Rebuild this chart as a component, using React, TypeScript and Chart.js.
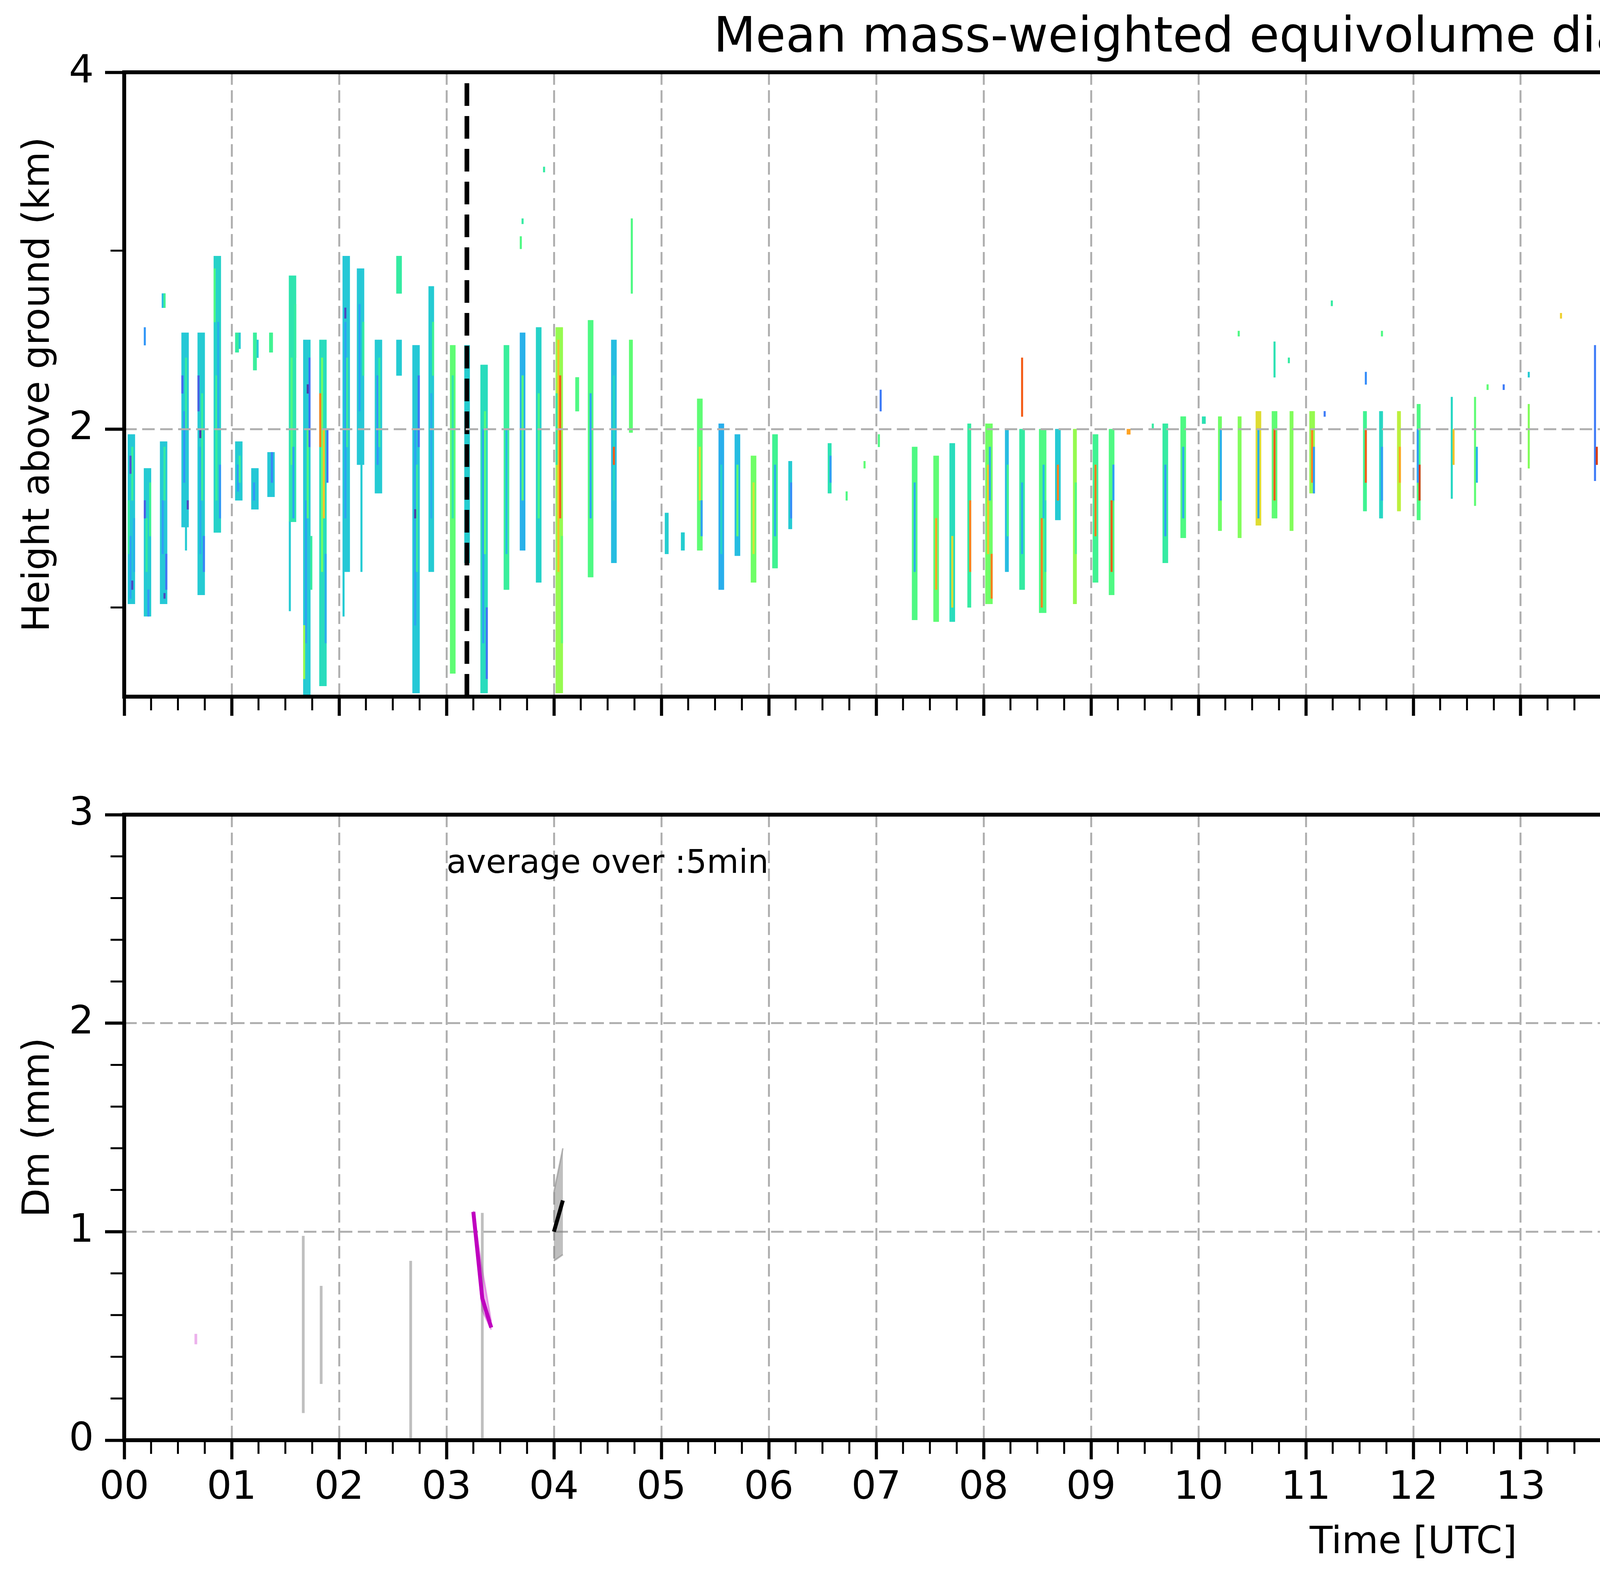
import React, { useEffect, useRef } from 'react';
import { Chart, registerables } from 'chart.js';

Chart.register(...registerables);

const FONT = "'DejaVu Sans', sans-serif";
Chart.defaults.font.family = FONT;
Chart.defaults.color = '#000';

// ---- axis ticks / labels ----
const hourLabels = ['00', '01', '02', '03', '04', '05', '06', '07', '08', '09', '10', '11',
  '12', '13', '14', '15', '16', '17', '18', '19', '20', '21', '22', '23'];
const hourTicks = [0, 1, 2, 3, 4, 5, 6, 7, 8, 9, 10, 11, 12, 13, 14, 15, 16, 17, 18, 19, 20, 21, 22, 23, 24];
const heightTicks = [2, 4];
const heightMinorTicks = [1, 3];
const heightRange = [0.5, 4];
const dmTicks = [0, 1, 2, 3];
const dmRange = [0, 3];
const colorbarTicks = [0, 0.4, 0.8, 1.2, 1.6, 2.0];
const colorbarRange = [0, 2];

// dashed black markers and the grey "no data" strip (hours)
const markerHours = [3.19, 19.2];
const missingSpan = [23.85, 24];

// radar Dm cells: [start minute, minutes, bottom km, top km, Dm mm]
const cells00to03 = [
  [2, 4, 1.02, 1.97, 0.54], [2, 1, 1.3, 1.6, 0.7], [3, 1, 1.05, 1.4, 0.42], [4, 1, 1.6, 1.9, 0.72], [5, 1, 1.2, 1.5, 0.46], [3, 1, 1.75, 1.85, 0.18], [4, 1, 1.1, 1.15, 0.15],
  [11, 4, 0.95, 1.78, 0.55], [12, 1, 1.2, 1.5, 0.7], [13, 1, 0.95, 1.1, 0.38], [14, 1, 1.4, 1.7, 0.74], [11, 1, 1.5, 1.6, 0.22], [11, 1, 2.47, 2.57, 0.38],
  [20, 4, 1.02, 1.93, 0.54], [21, 1, 1.3, 1.6, 0.4], [22, 1, 1.6, 1.9, 0.7], [23, 1, 1.1, 1.3, 0.28], [21, 2, 2.68, 2.76, 0.5], [22, 1, 2.68, 2.76, 0.75], [22, 1, 1.05, 1.08, 0.15],
  [32, 4, 1.45, 2.54, 0.54], [33, 1, 1.7, 2.1, 0.38], [34, 1, 2.0, 2.4, 0.7], [32, 1, 2.2, 2.3, 0.25], [34, 1, 1.32, 1.45, 0.55], [35, 1, 1.55, 1.6, 0.15],
  [41, 4, 1.07, 2.54, 0.55], [42, 1, 1.3, 1.9, 0.45], [43, 1, 1.6, 2.2, 0.72], [44, 1, 1.2, 1.4, 0.32], [41, 1, 2.1, 2.3, 0.22], [42, 1, 1.95, 2.0, 0.12],
  [50, 4, 1.42, 2.97, 0.58], [51, 1, 1.6, 2.3, 0.72], [52, 1, 2.0, 2.6, 0.45], [50, 1, 2.6, 2.9, 0.8], [53, 1, 1.5, 1.8, 0.38],
  [62, 4, 1.6, 1.93, 0.55], [63, 1, 1.65, 1.8, 0.4], [64, 1, 1.7, 1.85, 0.72], [62, 2, 2.43, 2.54, 0.7], [64, 1, 2.45, 2.54, 0.55],
  [71, 4, 1.55, 1.78, 0.54], [72, 1, 1.6, 1.7, 0.38], [72, 2, 2.33, 2.54, 0.72], [74, 1, 2.4, 2.5, 0.55],
  [80, 4, 1.62, 1.87, 0.54], [82, 1, 1.7, 1.87, 0.32], [81, 2, 2.43, 2.54, 0.75],
  [92, 4, 1.48, 2.86, 0.66], [93, 1, 1.8, 2.4, 0.8], [94, 1, 1.5, 1.9, 0.42], [92, 1, 0.98, 1.48, 0.55], [95, 1, 2.4, 2.7, 0.7],
  [100, 4, 0.5, 2.5, 0.55], [101, 1, 0.8, 1.6, 0.42], [102, 1, 1.5, 2.0, 0.8], [103, 1, 1.9, 2.4, 0.28], [100, 1, 0.6, 0.9, 1.0], [104, 1, 1.1, 1.4, 0.7], [102, 1, 2.2, 2.25, 0.12],
  [109, 4, 0.56, 2.5, 0.62], [110, 1, 1.2, 2.4, 0.9], [111, 1, 1.5, 2.0, 1.3], [112, 1, 0.8, 1.3, 0.45], [109, 1, 1.9, 2.2, 1.5], [113, 1, 1.7, 2.0, 0.28],
  [122, 4, 1.2, 2.97, 0.54], [123, 1, 1.5, 2.6, 0.42], [124, 1, 1.9, 2.4, 0.7], [122, 1, 0.95, 1.2, 0.55], [123, 1, 2.62, 2.68, 0.15],
  [130, 4, 1.8, 2.9, 0.54], [131, 1, 2.1, 2.7, 0.42], [133, 1, 2.3, 2.6, 0.7], [132, 1, 1.2, 1.8, 0.55],
  [140, 4, 1.64, 2.5, 0.55], [141, 1, 1.8, 2.3, 0.38], [142, 1, 1.9, 2.4, 0.7],
  [152, 3, 2.76, 2.97, 0.7], [152, 3, 2.3, 2.5, 0.55],
  [161, 4, 0.52, 2.47, 0.54], [162, 1, 0.9, 2.0, 0.42], [163, 1, 1.2, 1.8, 0.7], [164, 1, 1.9, 2.3, 0.28], [162, 1, 1.5, 1.55, 0.12],
  [170, 3, 1.2, 2.8, 0.55], [171, 1, 1.5, 2.2, 0.45], [172, 1, 2.3, 2.6, 0.75],
];
const cells03to06 = [
  [182, 3, 0.63, 2.47, 0.85], [183, 1, 1.5, 2.3, 0.66],
  [190, 3, 1.25, 2.47, 0.56],
  [199, 4, 0.52, 2.36, 0.62], [200, 1, 0.8, 2.0, 0.42], [201, 1, 1.3, 2.1, 0.82], [202, 1, 0.6, 1.0, 0.28],
  [212, 3, 1.1, 2.47, 0.72], [213, 1, 1.3, 2.0, 0.5],
  [221, 3, 1.32, 2.54, 0.46], [222, 1, 1.6, 2.3, 0.82], [222, 1, 3.15, 3.18, 0.7], [221, 1, 3.01, 3.08, 0.8],
  [230, 3, 1.14, 2.57, 0.58], [231, 1, 1.5, 2.2, 0.78], [234, 1, 3.44, 3.47, 0.7],
  [241, 4, 0.52, 2.57, 1.0], [242, 1, 1.2, 2.5, 1.3], [243, 1, 1.5, 2.3, 1.6], [241, 1, 1.8, 2.2, 0.7], [244, 1, 0.8, 1.4, 0.85],
  [252, 2, 2.1, 2.29, 0.8],
  [259, 3, 1.17, 2.61, 0.8], [260, 1, 1.5, 2.2, 0.42],
  [272, 3, 1.25, 2.5, 0.5], [273, 1, 1.6, 2.3, 0.6], [273, 1, 1.8, 1.9, 1.6],
  [282, 2, 1.98, 2.5, 0.85], [283, 1, 2.76, 3.18, 0.8],
  [302, 2, 1.3, 1.53, 0.56], [311, 2, 1.32, 1.42, 0.56],
  [320, 3, 1.32, 2.17, 0.85], [321, 1, 1.6, 1.9, 1.2], [322, 1, 1.4, 1.6, 0.4],
  [332, 3, 1.1, 2.03, 0.45], [333, 1, 1.3, 1.8, 0.58],
  [341, 3, 1.29, 1.97, 0.5], [342, 1, 1.4, 1.8, 0.85],
  [350, 3, 1.14, 1.85, 0.9], [351, 1, 1.3, 1.7, 1.15],
];
const cells06to09 = [
  [362, 3, 1.22, 1.97, 0.75], [363, 1, 1.4, 1.8, 0.45],
  [371, 2, 1.44, 1.82, 0.55], [372, 1, 1.5, 1.7, 0.35],
  [393, 2, 1.64, 1.92, 0.65], [394, 1, 1.7, 1.85, 0.4],
  [403, 1, 1.6, 1.65, 0.8], [413, 1, 1.78, 1.82, 0.85], [422, 1, 2.1, 2.22, 0.3], [421, 1, 1.9, 1.97, 0.8],
  [440, 3, 0.93, 1.9, 0.8], [441, 1, 1.2, 1.7, 0.45],
  [452, 3, 0.92, 1.85, 0.85], [453, 1, 1.1, 1.5, 1.4],
  [461, 3, 0.92, 1.92, 0.62], [462, 1, 1.0, 1.4, 1.2],
  [471, 2, 1.0, 2.03, 0.7], [472, 1, 1.2, 1.6, 1.5],
  [481, 4, 1.02, 2.03, 0.9], [482, 1, 1.3, 1.8, 1.3], [483, 1, 1.6, 1.9, 0.45], [484, 1, 1.05, 1.3, 1.5],
  [492, 2, 1.2, 2.0, 0.5], [493, 1, 1.4, 1.8, 0.75],
  [500, 3, 1.1, 2.0, 0.7], [501, 1, 1.3, 1.7, 0.45], [501, 1, 2.07, 2.4, 1.6],
  [511, 4, 0.97, 2.0, 0.8], [512, 1, 1.0, 1.5, 1.5], [513, 1, 1.5, 1.8, 0.5], [514, 1, 1.2, 1.6, 0.65],
  [520, 3, 1.49, 2.0, 0.55], [521, 1, 1.6, 1.8, 1.5],
  [530, 2, 1.02, 2.0, 1.0], [531, 1, 1.3, 1.7, 0.8],
];
const cells09to12 = [
  [541, 3, 1.14, 1.97, 0.75], [542, 1, 1.4, 1.8, 1.5],
  [550, 3, 1.07, 2.0, 0.8], [551, 1, 1.2, 1.6, 1.6], [552, 1, 1.6, 1.8, 0.4],
  [560, 2, 1.97, 2.0, 1.4], [574, 1, 2.0, 2.03, 0.7],
  [580, 3, 1.25, 2.03, 0.7], [581, 1, 1.4, 1.8, 0.4],
  [590, 3, 1.39, 2.07, 0.8], [591, 1, 1.5, 1.9, 0.45],
  [602, 2, 2.03, 2.07, 0.65],
  [611, 2, 1.43, 2.07, 0.9], [612, 1, 1.6, 2.0, 0.45],
  [622, 2, 1.39, 2.07, 0.95], [622, 1, 2.52, 2.55, 0.8],
  [632, 3, 1.46, 2.1, 1.2], [633, 1, 1.5, 2.0, 0.45],
  [641, 3, 1.5, 2.1, 0.85], [642, 1, 1.6, 2.0, 1.6], [642, 1, 2.29, 2.49, 0.65], [650, 1, 2.37, 2.4, 0.7],
  [651, 2, 1.43, 2.1, 0.95],
  [662, 3, 1.64, 2.1, 1.0], [663, 1, 1.7, 2.0, 1.5], [664, 1, 1.64, 1.9, 0.4],
  [670, 1, 2.07, 2.1, 0.3], [674, 1, 2.69, 2.72, 0.7],
  [692, 2, 1.54, 2.1, 0.75], [693, 1, 1.7, 2.0, 1.6], [693, 1, 2.25, 2.32, 0.35],
  [701, 2, 1.5, 2.1, 0.6], [702, 1, 1.6, 1.9, 0.4], [702, 1, 2.52, 2.55, 0.8],
  [711, 2, 1.54, 2.1, 1.1], [712, 1, 1.7, 1.9, 1.4],
];
const cells12to24 = [
  [722, 2, 1.49, 2.14, 0.8], [723, 1, 1.6, 1.8, 1.7], [722, 1, 1.7, 2.0, 0.4],
  [741, 1, 1.61, 2.18, 0.6], [742, 1, 1.8, 2.0, 1.3],
  [754, 1, 1.57, 2.18, 0.85], [755, 1, 1.7, 1.9, 0.45],
  [761, 1, 2.22, 2.25, 0.85], [770, 1, 2.22, 2.25, 0.3],
  [784, 1, 1.78, 2.14, 0.95], [784, 1, 2.29, 2.32, 0.55], [802, 1, 2.62, 2.65, 1.25],
  [821, 1, 1.71, 2.47, 0.3], [822, 1, 1.8, 1.9, 1.7],
  [831, 1, 1.75, 2.39, 0.75], [832, 1, 1.8, 2.0, 1.45],
  [845, 1, 1.75, 2.32, 0.8], [854, 1, 1.8, 2.14, 0.45], [860, 1, 1.75, 2.0, 0.6], [861, 1, 1.75, 1.8, 1.5],
  [884, 1, 2.0, 2.25, 0.65], [892, 1, 1.82, 2.1, 0.5],
  [902, 1, 1.75, 2.14, 0.7], [904, 1, 2.47, 2.57, 1.1],
  [912, 1, 1.75, 2.36, 0.55], [921, 1, 1.82, 2.39, 0.85], [922, 1, 1.9, 2.1, 0.3],
  [933, 1, 1.75, 2.36, 0.75], [934, 1, 1.9, 2.2, 0.45],
  [942, 1, 1.75, 2.36, 0.6], [943, 1, 1.8, 2.0, 1.6],
  [994, 1, 2.03, 2.07, 1.2], [1084, 1, 3.18, 3.37, 1.2], [1091, 1, 2.25, 2.29, 1.15],
  [1222, 1, 2.47, 2.5, 1.2], [1234, 1, 2.97, 3.11, 0.85], [1234, 1, 2.4, 2.76, 1.45],
  [1234, 1, 2.5, 2.6, 1.75], [1234, 1, 2.11, 2.14, 1.7],
  [1262, 1, 2.39, 2.5, 1.2], [1265, 1, 2.25, 2.28, 1.4],
  [1310, 1, 2.8, 2.97, 1.5], [1310, 1, 2.54, 2.64, 1.2], [1334, 1, 2.43, 2.5, 1.2],
  [1413, 1, 2.39, 2.42, 1.2], [1421, 1, 2.39, 2.5, 1.35],
  [1430, 1, 2.32, 2.36, 0.65], [1430, 1, 2.43, 2.47, 1.2],
];

// 5-minute averages (minute of day)
const radarMinutes = [100, 110, 160, 200, 240, 245];
const radarMin = [0.13, 0.27, 0.01, 0.01, 0.86, 0.89];
const radarMax = [0.98, 0.74, 0.86, 1.09, 1.19, 1.40];
const radarMedian = [null, null, null, null, 1.0, 1.15];
const parsivelMinutes = [40, 195, 200, 205];
const parsivelMin = [0.46, 1.08, 0.62, 0.53];
const parsivelMax = [0.51, 1.10, 0.82, 0.57];
const parsivelMedian = [null, 1.095, 0.68, 0.54];

const legendLabels = ['Min-Max Range radar Dm', 'radar(xmacs-wmacs)_Dm_median', 'Min-Max Range parsivel Dm', 'parsivel_Dm_median'];
const averageNote = { text: 'average over :5min', x: 3.0, y: 2.72 };

const RADAR_FILL = 'rgba(128,128,128,0.5)';
const PARSIVEL_FILL = 'rgba(191,0,191,0.3)';
const PARSIVEL_LINE = '#bf00bf';

// turbo colour map (polynomial fit)
const turbo = (t: number) => {
  const x = Math.min(1, Math.max(0, t));
  const x2 = x * x, x3 = x2 * x, x4 = x3 * x, x5 = x4 * x;
  const r = 0.13572138 + 4.6153926 * x - 42.66032258 * x2 + 132.13108234 * x3 - 152.94239396 * x4 + 59.28637943 * x5;
  const g = 0.09140261 + 2.19418839 * x + 4.84296658 * x2 - 14.18503333 * x3 + 4.27729857 * x4 + 2.82956604 * x5;
  const b = 0.1066733 + 12.64194608 * x - 60.58204836 * x2 + 110.36276771 * x3 - 89.90310912 * x4 + 27.34824973 * x5;
  const c = (u: number) => Math.round(255 * Math.min(1, Math.max(0, u)));
  return `rgb(${c(r)}, ${c(g)}, ${c(b)})`;
};

const quarterHours: number[] = [];
for (let q = 1; q < 96; q++) if (q % 4 !== 0) quarterHours.push(q / 4);
const dmMinorTicks: number[] = [];
for (let k = 1; k < 15; k++) if (k % 5 !== 0) dmMinorTicks.push(k / 5);

// ---- plugins ----
const framePlugin = {
  id: 'frame',
  afterDraw(chart: any, _a: any, o: any) {
    const { ctx, chartArea: a } = chart;
    ctx.save();
    ctx.strokeStyle = '#000';
    ctx.lineWidth = o.width || 10;
    ctx.strokeRect(a.left, a.top, a.right - a.left, a.bottom - a.top);
    ctx.restore();
  },
};

const minorTicksPlugin = {
  id: 'minorTicks',
  afterDraw(chart: any, _a: any, o: any) {
    const { ctx, chartArea: a, scales } = chart;
    ctx.save();
    ctx.strokeStyle = '#000';
    ctx.lineWidth = o.width;
    ctx.beginPath();
    (o.x || []).forEach((v: number) => {
      const px = scales.x.getPixelForValue(v);
      ctx.moveTo(px, a.bottom);
      ctx.lineTo(px, a.bottom + o.length);
    });
    (o.y || []).forEach((v: number) => {
      const py = scales.y.getPixelForValue(v);
      ctx.moveTo(a.left - o.length, py);
      ctx.lineTo(a.left, py);
    });
    ctx.stroke();
    ctx.restore();
  },
};

const notePlugin = {
  id: 'note',
  afterDatasetsDraw(chart: any, _a: any, o: any) {
    const { ctx, scales } = chart;
    ctx.save();
    ctx.font = `${o.size}px ${FONT}`;
    ctx.fillStyle = '#000';
    ctx.textBaseline = 'alphabetic';
    ctx.fillText(o.text, scales.x.getPixelForValue(o.x), scales.y.getPixelForValue(o.y));
    ctx.restore();
  },
};

const boxLegendPlugin = {
  id: 'boxLegend',
  afterDraw(chart: any, _a: any, o: any) {
    const { ctx, chartArea: a } = chart;
    const items = o.items as any[];
    ctx.save();
    ctx.font = `${o.size}px ${FONT}`;
    const textW = Math.max(...items.map((it) => ctx.measureText(it.label).width));
    const w = o.padX + o.handleW + o.gap + textW + o.padRight;
    const h = o.padY * 2 + o.rowH * items.length;
    const x0 = a.right - o.margin - w;
    const y0 = a.top + o.margin;
    ctx.beginPath();
    ctx.roundRect(x0, y0, w, h, 16);
    ctx.fillStyle = 'rgba(255,255,255,0.8)';
    ctx.fill();
    ctx.strokeStyle = '#d0d0d0';
    ctx.lineWidth = 5;
    ctx.stroke();
    items.forEach((it, i) => {
      const cy = y0 + o.padY + o.rowH * (i + 0.5);
      const hx = x0 + o.padX;
      if (it.kind === 'patch') {
        ctx.fillStyle = it.fill;
        ctx.fillRect(hx, cy - 26, o.handleW, 52);
        ctx.strokeStyle = it.fill;
        ctx.lineWidth = 5;
        ctx.strokeRect(hx, cy - 26, o.handleW, 52);
      } else {
        ctx.strokeStyle = it.color;
        ctx.lineWidth = 10;
        ctx.beginPath();
        ctx.moveTo(hx, cy);
        ctx.lineTo(hx + o.handleW, cy);
        ctx.stroke();
      }
      ctx.fillStyle = '#000';
      ctx.textBaseline = 'middle';
      ctx.fillText(it.label, hx + o.handleW + o.gap, cy);
    });
    ctx.restore();
  },
};

const sideLabelPlugin = {
  id: 'sideLabel',
  afterDraw(chart: any, _a: any, o: any) {
    const { ctx, chartArea: a } = chart;
    ctx.save();
    ctx.translate(o.x, (a.top + a.bottom) / 2);
    ctx.rotate(-Math.PI / 2);
    ctx.font = `${o.size}px ${FONT}`;
    ctx.fillStyle = '#000';
    ctx.textAlign = 'center';
    ctx.textBaseline = 'middle';
    ctx.fillText(o.text, 0, 0);
    ctx.restore();
  },
};

// ---- helpers ----
const gridStyle = (z: number) => ({
  color: '#b0b0b0', lineWidth: 5, tickColor: '#000', tickWidth: 8, tickLength: 49, z, offset: false,
});
const borderStyle = { display: false, dash: [32, 14] };
const setTicks = (values: number[]) => (s: any) => { s.ticks = values.map((v) => ({ value: v })); };
// empty right-hand axis that reserves the space between plot and colour bar
const spacerAxis = (width: number) => ({
  position: 'right', display: true, afterFit: (s: any) => { s.width = width; },
  ticks: { display: false }, grid: { display: false }, border: { display: false },
});

const groupRuns = (minutes: number[]) => {
  const runs: number[][] = [];
  minutes.forEach((m, i) => {
    const last = runs[runs.length - 1];
    if (last && m - minutes[last[last.length - 1]] <= 5) last.push(i);
    else runs.push([i]);
  });
  return runs;
};

const rangeDatasets = (minutes: number[], lo: number[], hi: number[], color: string) =>
  groupRuns(minutes).flatMap((run) => {
    if (run.length === 1) {
      const i = run[0];
      const x = minutes[i] / 60;
      return [{ type: 'line', data: [{ x, y: lo[i] }, { x, y: hi[i] }], borderColor: color, borderWidth: 7, pointRadius: 0, fill: false, order: 2 }];
    }
    return [
      { type: 'line', data: run.map((i) => ({ x: minutes[i] / 60, y: lo[i] })), borderColor: color, borderWidth: 4, pointRadius: 0, fill: false, tension: 0, order: 2 },
      { type: 'line', data: run.map((i) => ({ x: minutes[i] / 60, y: hi[i] })), borderColor: color, borderWidth: 4, pointRadius: 0, fill: '-1', backgroundColor: color, tension: 0, order: 2 },
    ];
  });

const medianDataset = (minutes: number[], med: (number | null)[], color: string) => ({
  type: 'line',
  data: minutes.map((m, i) => ({ x: m / 60, y: med[i] })),
  borderColor: color, borderWidth: 10, pointRadius: 0, fill: false, spanGaps: false, tension: 0, order: 0,
});

export default function App() {
  const topRef = useRef<HTMLCanvasElement>(null);
  const bottomRef = useRef<HTMLCanvasElement>(null);
  const cbarRef = useRef<HTMLCanvasElement>(null);

  useEffect(() => {
    const charts: Chart[] = [];
    const radarCells = [...cells00to03, ...cells03to06, ...cells06to09, ...cells09to12, ...cells12to24];
    const cellBars = radarCells.flatMap(([start, span, lo, hi, dm]) =>
      Array.from({ length: span }, (_, k) => ({ x: (start + k + 0.5) / 60, y: [lo, hi], dm })));

    if (topRef.current) {
      charts.push(new Chart(topRef.current, {
        type: 'bar',
        data: {
          datasets: [
            {
              type: 'bar', data: cellBars as any, backgroundColor: cellBars.map((c) => turbo(c.dm / colorbarRange[1])),
              borderWidth: 0, barPercentage: 1, categoryPercentage: 1, order: 2,
            },
            {
              type: 'line', data: [{ x: missingSpan[0], y: heightRange[1] }, { x: missingSpan[1], y: heightRange[1] }],
              fill: 'start', backgroundColor: '#d9d9d9', borderWidth: 0, pointRadius: 0, order: 1,
            },
            ...markerHours.map((h) => ({
              type: 'line', data: [{ x: h, y: heightRange[0] }, { x: h, y: heightRange[1] }],
              borderColor: '#000', borderWidth: 12, borderDash: [58, 26], pointRadius: 0, fill: false, order: 0,
            })),
          ] as any,
        },
        options: {
          animation: false, responsive: false,
          plugins: {
            legend: { display: false }, tooltip: { enabled: false },
            title: {
              display: true, text: 'Mean mass-weighted equivolume diameter on 20260613', color: '#000',
              font: { size: 125, weight: 'normal' }, padding: { top: 25, bottom: 10 },
            },
            frame: { width: 10 },
            minorTicks: { x: quarterHours, y: heightMinorTicks, length: 35, width: 5 },
          } as any,
          scales: {
            x: {
              type: 'linear', min: 0, max: 24, offset: false,
              afterBuildTicks: setTicks(hourTicks), afterFit: (s: any) => { s.height = 117; },
              ticks: { display: false }, grid: gridStyle(1), border: borderStyle,
            },
            y: {
              type: 'linear', min: heightRange[0], max: heightRange[1],
              afterBuildTicks: setTicks(heightTicks), afterFit: (s: any) => { s.width = 318; },
              ticks: { font: { size: 100 }, color: '#000', padding: 29 },
              grid: gridStyle(1), border: borderStyle,
              title: { display: true, text: 'Height above ground (km)', color: '#000', font: { size: 96 }, padding: { top: 42, bottom: 0 } },
            },
            spacer: spacerAxis(318),
          } as any,
        },
        plugins: [framePlugin, minorTicksPlugin],
      } as any));
    }

    if (bottomRef.current) {
      charts.push(new Chart(bottomRef.current, {
        type: 'line',
        data: {
          datasets: [
            medianDataset(radarMinutes, radarMedian, '#000'),
            medianDataset(parsivelMinutes, parsivelMedian, PARSIVEL_LINE),
            ...rangeDatasets(radarMinutes, radarMin, radarMax, RADAR_FILL),
            ...rangeDatasets(parsivelMinutes, parsivelMin, parsivelMax, PARSIVEL_FILL),
          ] as any,
        },
        options: {
          animation: false, responsive: false,
          layout: { padding: { left: 0, right: 0, top: 135, bottom: 0 } },
          plugins: {
            legend: { display: false }, tooltip: { enabled: false },
            frame: { width: 10 },
            minorTicks: { x: quarterHours, y: dmMinorTicks, length: 35, width: 5 },
            note: { ...averageNote, size: 84 },
            boxLegend: {
              size: 70, padX: 25, handleW: 148, gap: 51, padRight: 30, padY: 12, rowH: 102, margin: 34,
              items: [
                { kind: 'patch', fill: RADAR_FILL, label: legendLabels[0] },
                { kind: 'line', color: '#000', label: legendLabels[1] },
                { kind: 'patch', fill: PARSIVEL_FILL, label: legendLabels[2] },
                { kind: 'line', color: PARSIVEL_LINE, label: legendLabels[3] },
              ],
            },
          } as any,
          scales: {
            x: {
              type: 'linear', min: 0, max: 24, offset: false,
              afterBuildTicks: setTicks(hourTicks), afterFit: (s: any) => { s.height = 345; },
              ticks: {
                autoSkip: false, maxRotation: 0, font: { size: 100 }, color: '#000', padding: 15,
                callback: (v: any) => hourLabels[v] ?? '',
              },
              grid: gridStyle(0), border: borderStyle,
              title: { display: true, text: 'Time [UTC]', color: '#000', font: { size: 96 }, padding: { top: 0, bottom: 23 } },
            },
            y: {
              type: 'linear', min: dmRange[0], max: dmRange[1],
              afterBuildTicks: setTicks(dmTicks), afterFit: (s: any) => { s.width = 318; },
              ticks: { font: { size: 100 }, color: '#000', padding: 29 },
              grid: gridStyle(0), border: borderStyle,
              title: { display: true, text: 'Dm (mm)', color: '#000', font: { size: 96 }, padding: { top: 42, bottom: 0 } },
            },
            spacer: spacerAxis(318),
          } as any,
        },
        plugins: [framePlugin, minorTicksPlugin, notePlugin, boxLegendPlugin],
      } as any));
    }

    if (cbarRef.current) {
      charts.push(new Chart(cbarRef.current, {
        type: 'bar',
        data: {
          labels: ['Dm'],
          datasets: [{
            data: [[colorbarRange[0], colorbarRange[1]]],
            backgroundColor: (c: any) => {
              const area = c.chart.chartArea;
              if (!area) return '#888';
              const g = c.chart.ctx.createLinearGradient(0, area.bottom, 0, area.top);
              for (let i = 0; i <= 32; i++) g.addColorStop(i / 32, turbo(i / 32));
              return g;
            },
            borderWidth: 0, barPercentage: 1, categoryPercentage: 1,
          }],
        },
        options: {
          animation: false, responsive: false,
          layout: { padding: { left: 93, right: 0, top: 185, bottom: 117 } },
          plugins: {
            legend: { display: false }, tooltip: { enabled: false },
            frame: { width: 5 },
            sideLabel: { text: 'Dm (mm)', x: 450, size: 76 },
          } as any,
          scales: {
            x: { display: false },
            y: {
              position: 'right', min: colorbarRange[0], max: colorbarRange[1],
              afterBuildTicks: setTicks(colorbarTicks), afterFit: (s: any) => { s.width = 338; },
              ticks: { font: { size: 76 }, color: '#000', padding: 30, callback: (v: any) => Number(v).toFixed(1) },
              grid: { drawOnChartArea: false, tickLength: 20, tickWidth: 6, tickColor: '#000' },
              border: { display: false },
            },
          } as any,
        },
        plugins: [framePlugin, sideLabelPlugin],
      } as any));
    }

    return () => charts.forEach((c) => c.destroy());
  }, []);

  return (
    <div style={{ position: 'absolute', left: 0, top: 0, width: 7442, height: 4031, background: '#fff' }}>
      <canvas ref={topRef} width={7236} height={1900} style={{ position: 'absolute', left: 0, top: 0 }} />
      <canvas ref={bottomRef} width={7236} height={2081} style={{ position: 'absolute', left: 0, top: 1950 }} />
      <canvas ref={cbarRef} width={542} height={1900} style={{ position: 'absolute', left: 6900, top: 0 }} />
    </div>
  );
}
